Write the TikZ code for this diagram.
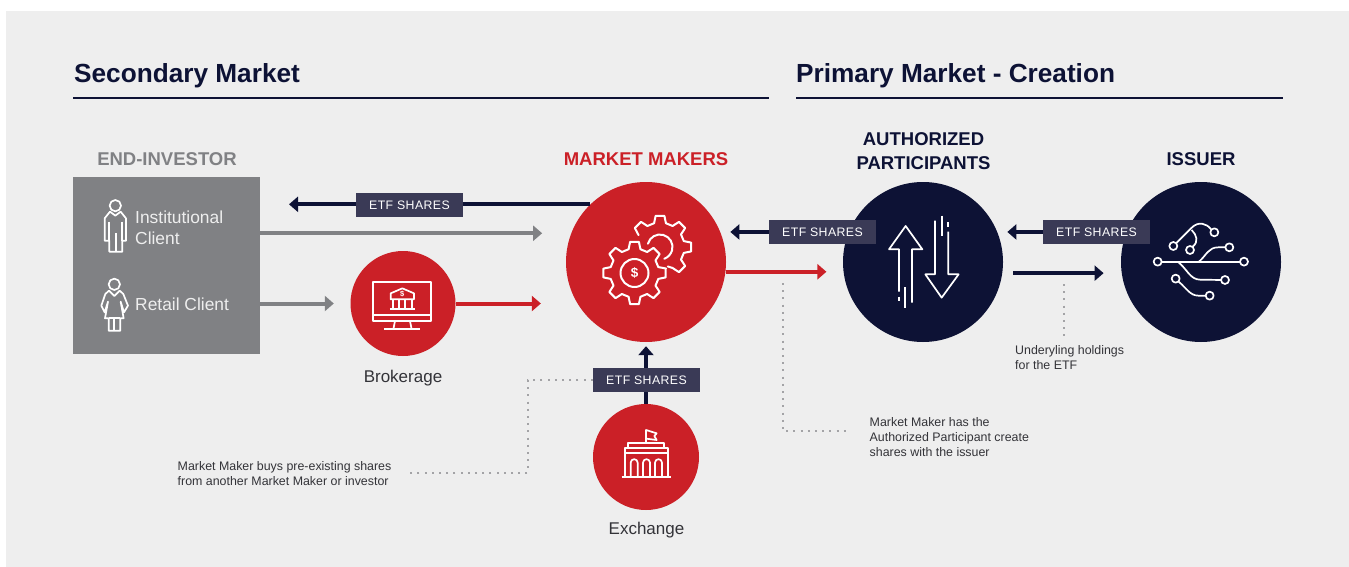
\documentclass[tikz,border=0pt]{standalone}
\usepackage{fontspec}
\setmainfont{Liberation Sans}
\newfontfamily\labfont[LetterSpace=3.5]{Liberation Sans}
\usetikzlibrary{arrows.meta,calc}
\definecolor{panel}{HTML}{EEEEEE}
\definecolor{navy}{HTML}{0D1235}
\definecolor{redc}{HTML}{CB2027}
\definecolor{grayc}{HTML}{808184}
\definecolor{labc}{HTML}{3A3A56}
\definecolor{notec}{HTML}{333338}
\definecolor{dotc}{HTML}{A3A3A6}
\tikzset{
  bigcirc/.style={circle,inner sep=0pt,minimum size=#1,fill=redc},
  arrowline/.style={line width=4pt,-{Triangle[length=9pt,width=15pt]}},
  etflabel/.style={fill=labc,text=white,minimum width=107pt,minimum height=24pt,inner sep=0pt,font=\labfont\fontsize{12.3}{14}\selectfont},
  headtxt/.style={font=\bfseries\fontsize{26.2}{30}\selectfont,text=navy,anchor=base west,inner sep=0pt},
  subhead/.style={font=\bfseries\fontsize{18.5}{24}\selectfont,inner sep=0pt,align=center},
  notetxt/.style={font=\fontsize{12.4}{15}\selectfont,text=notec,inner sep=0pt,align=left},
  captxt/.style={font=\fontsize{17}{20}\selectfont,text=notec,inner sep=0pt},
  clienttxt/.style={font=\fontsize{17.4}{21}\selectfont,text=panel,inner sep=0pt,align=left,anchor=west},
  dotline/.style={dotc,line width=2pt,dash pattern=on 2pt off 5.2pt},
  iconline/.style={white,line width=1.7pt,line join=round},
  iconthick/.style={white,line width=2pt,line join=round,line cap=round},
}
\begin{document}
\begin{tikzpicture}[x=1pt,y=-1pt]
\useasboundingbox (0,0) rectangle (1349,567);
\fill[white] (0,0) rectangle (1349,567);
\fill[panel] (6,11) rectangle (1349,567);
% headings
\node[headtxt] (hsec) at (74,83) {Secondary Market};
\node[headtxt] (hpri) at (796,83) {Primary Market - Creation};
\draw[navy,line width=2pt] (73,98) -- (769,98);
\draw[navy,line width=2pt] (796,98) -- (1283,98);
% main shapes
\node[fill=grayc,minimum width=187pt,minimum height=177pt,inner sep=0pt] (inv) at (166.5,265.5) {};
\node[bigcirc=160pt] (mm) at (646,262) {};
\node[bigcirc=105pt] (brok) at (403,303.5) {};
\node[bigcirc=106pt] (ex) at (646,457) {};
\node[bigcirc=160pt,fill=navy] (ap) at (923,262) {};
\node[bigcirc=160pt,fill=navy] (iss) at (1201,262) {};
% arrows
\coordinate (tiptop) at (289,205);
\draw[arrowline,navy] (mm.134.6) -- (mm.134.6 -| tiptop);
\draw[arrowline,grayc,shorten >=29pt] (inv.east |- mm.159.5) -- (mm.159.5);
\draw[arrowline,grayc,shorten >=16.5pt] (inv.east |- brok.west) -- (brok.west);
\draw[arrowline,redc,shorten >=35pt] (brok.east) -- (brok.east -| mm.209);
\draw[arrowline,navy,shorten >=4pt] (ex.north) -- (mm.south);
\draw[arrowline,navy,shorten >=10pt] (ap.158) -- (mm.22);
\draw[arrowline,redc,shorten >=17pt] (mm.-7) -- (mm.-7 -| ap.187);
\draw[arrowline,navy,shorten >=10pt] (iss.158) -- (ap.22);
\draw[arrowline,navy,shorten <=11pt,shorten >=18pt] (ap.-8) -- (ap.-8 -| iss.188);
% ETF labels
\node[etflabel] (l1) at (409.5,205) {ETF SHARES};
\node[etflabel] (l2) at (822.5,232) {ETF SHARES};
\node[etflabel] (l3) at (1096.5,232) {ETF SHARES};
\node[etflabel] (l4) at (646.5,380) {ETF SHARES};
% titles
\node[subhead,text=grayc] (tinv) at (167,159) {END-INVESTOR};
\node[subhead,text=redc] (tmm) at (646,159) {MARKET MAKERS};
\node[subhead,text=navy] (tap) at (923.5,151) {AUTHORIZED\\PARTICIPANTS};
\node[subhead,text=navy] (tiss) at (1201,159) {ISSUER};
\node[captxt] (cbrok) at (403,378) {Brokerage};
\node[captxt] (cex) at (646.5,530) {Exchange};
\node[clienttxt] (cinst) at (135,227.5) {Institutional\\Client};
\node[clienttxt] (cret) at (135,304.5) {Retail Client};
% notes
\node[notetxt,anchor=west] (n1) at (177.5,473.5) {Market Maker buys pre-existing shares\\from another Market Maker or investor};
\node[notetxt,anchor=west] (n2) at (869.5,437) {Market Maker has the\\Authorized Participant create\\shares with the issuer};
\node[notetxt,anchor=west] (n3) at (1015,357.5) {Underyling holdings\\for the ETF};
% dotted leaders
\coordinate (d1a) at (528,473);
\coordinate (d1b) at (406,473);
\draw[dotline] (l4.west) -| (d1a) -- (d1b);
\coordinate (d2a) at (783,283);
\coordinate (d2b) at (783,431);
\coordinate (d2c) at (850,431);
\draw[dotline] (d2a) -- (d2b) -- (d2c);
\coordinate (d3a) at (1064,284);
\coordinate (d3b) at (1064,337);
\draw[dotline] (d3a) -- (d3b);
% person icons
\begin{scope}[shift={(60,170)},x=0.3333pt,y=-0.3333pt]
\draw[iconline] (166,107) circle[radius=17];
\draw[iconline] (150,125) -- (166,137) -- (182,125) -- (198,145) -- (198,212) -- (187,212) -- (187,245) -- (148,245) -- (148,212) -- (134,212) -- (134,145) -- cycle;
\draw[iconline] (148,155) -- (148,212) (187,155) -- (187,212) (167,190) -- (167,245);
\draw[iconline] (163,343) circle[radius=17];
\draw[iconline] (147,362) -- (163,378) -- (179,362) -- (190,372) -- (204,407) -- (192,427) -- (182,395) -- (191,445) -- (181,445) -- (181,482) -- (146,482) -- (146,445) -- (135,445) -- (144,395) -- (134,427) -- (124,407) -- (136,372) -- cycle;
\draw[iconline] (163,445) -- (163,482) (146,445) -- (181,445);
\end{scope}
% brokerage icon
\begin{scope}[shift={(340,240)},x=0.3333pt,y=-0.3333pt]
\draw[iconline] (100,127) rectangle (273,243);
\draw[iconline] (100,225) -- (273,225);
\draw[iconline] (165,243) -- (160,268) (210,243) -- (215,268);
\draw[iconline] (133,268) -- (241,268);
\draw[iconline] (152,178) -- (152,160) -- (187,145) -- (222,160) -- (222,178) -- cycle;
\draw[iconline] (160,178) -- (160,207) (178,178) -- (178,207) (196,178) -- (196,207) (215,178) -- (215,207);
\draw[iconline] (150,208) -- (224,208);
\node[text=white,inner sep=0pt,font=\bfseries\fontsize{7.5}{8}\selectfont] (dollar1) at (187,163) {\$};
\end{scope}
% gears
\begin{scope}[shift={(634.5,273)}]
\draw[iconthick] (31.5,-4.5) \foreach \a in {0,45,...,315} { -- (\a-8:31.5) -- (\a+8:31.5) -- (\a+14:24.5) -- (\a+31:24.5)} -- cycle;
\draw[iconthick] (0,0) circle[radius=14];
\node[text=white,inner sep=0pt,font=\bfseries\fontsize{13.5}{14}\selectfont] (dollar2) at (0,0) {\$};
\end{scope}
\begin{scope}[shift={(660,247)}]
\draw[iconthick] (-151:24.5) -- (-143:31.5) -- (-127:31.5) -- (-121:24.5) -- (-104:24.5) -- (-98:31.5) -- (-82:31.5) -- (-76:24.5) -- (-59:24.5) -- (-53:31.5) -- (-37:31.5) -- (-31:24.5) -- (-14:24.5) -- (-8:31.5) -- (8:31.5) -- (14:24.5) -- (31:24.5) -- (37:31.5) -- (53:31.5) -- (59:24.5) -- (68:21);
\draw[iconthick] (-165:12.5) arc[start angle=-165,end angle=70,radius=12.5];
\end{scope}
% AP icon
\begin{scope}[shift={(840,180)},x=0.3333pt,y=-0.3333pt]
\draw[iconline] (177,335) -- (177,208) -- (147,208) -- (197,138) -- (247,208) -- (216,208) -- (216,368);
\draw[iconline] (196,322) -- (196,383) (177,350) -- (177,364);
\draw[iconline] (285,122) -- (285,283) -- (256,283) -- (305,353) -- (356,283) -- (325,283) -- (325,155);
\draw[iconline] (305,107) -- (305,168) (325,127) -- (325,141);
\end{scope}
% Issuer icon
\begin{scope}[shift={(1115,180)},x=0.3333pt,y=-0.3333pt]
\foreach \p in {(128,245),(387,245),(175,198),(225,210),(298,157),(343,202),(330,300),(182,296),(284,347)}
  \draw[iconline] \p circle[radius=12];
\draw[iconline] (140,245) -- (375,245);
\draw[iconline] (252,245) .. controls (275,225) and (280,202) .. (310,202) -- (331,202);
\draw[iconline] (188,245) .. controls (215,265) and (225,299) .. (255,299) -- (318,300);
\draw[iconline] (191,305) .. controls (215,325) and (225,347) .. (250,347) -- (272,347);
\draw[iconline] (184,189) -- (228,145) .. controls (250,122) and (275,130) .. (288,148);
\draw[iconline] (230,150) .. controls (245,165) and (252,185) .. (233,200);
\end{scope}
% Exchange icon
\begin{scope}[shift={(590,400)},x=0.3333pt,y=-0.3333pt]
\draw[iconline] (95,231) -- (242,231);
\draw[iconline] (105,231) -- (105,145) -- (234,145) -- (234,231);
\draw[iconline] (103,158) -- (235,158);
\draw[iconline] (115,145) -- (115,128) -- (222,128) -- (222,145);
\draw[iconline] (168,128) -- (168,90) -- (200,100) -- (193,108) -- (200,120) -- (168,116);
\foreach \x in {122,159,195}
  \draw[iconline] (\x,231) -- (\x,188) arc[start angle=180,end angle=360,radius=10.5] -- (\x+21,231);
\end{scope}
\end{tikzpicture}
\end{document}
